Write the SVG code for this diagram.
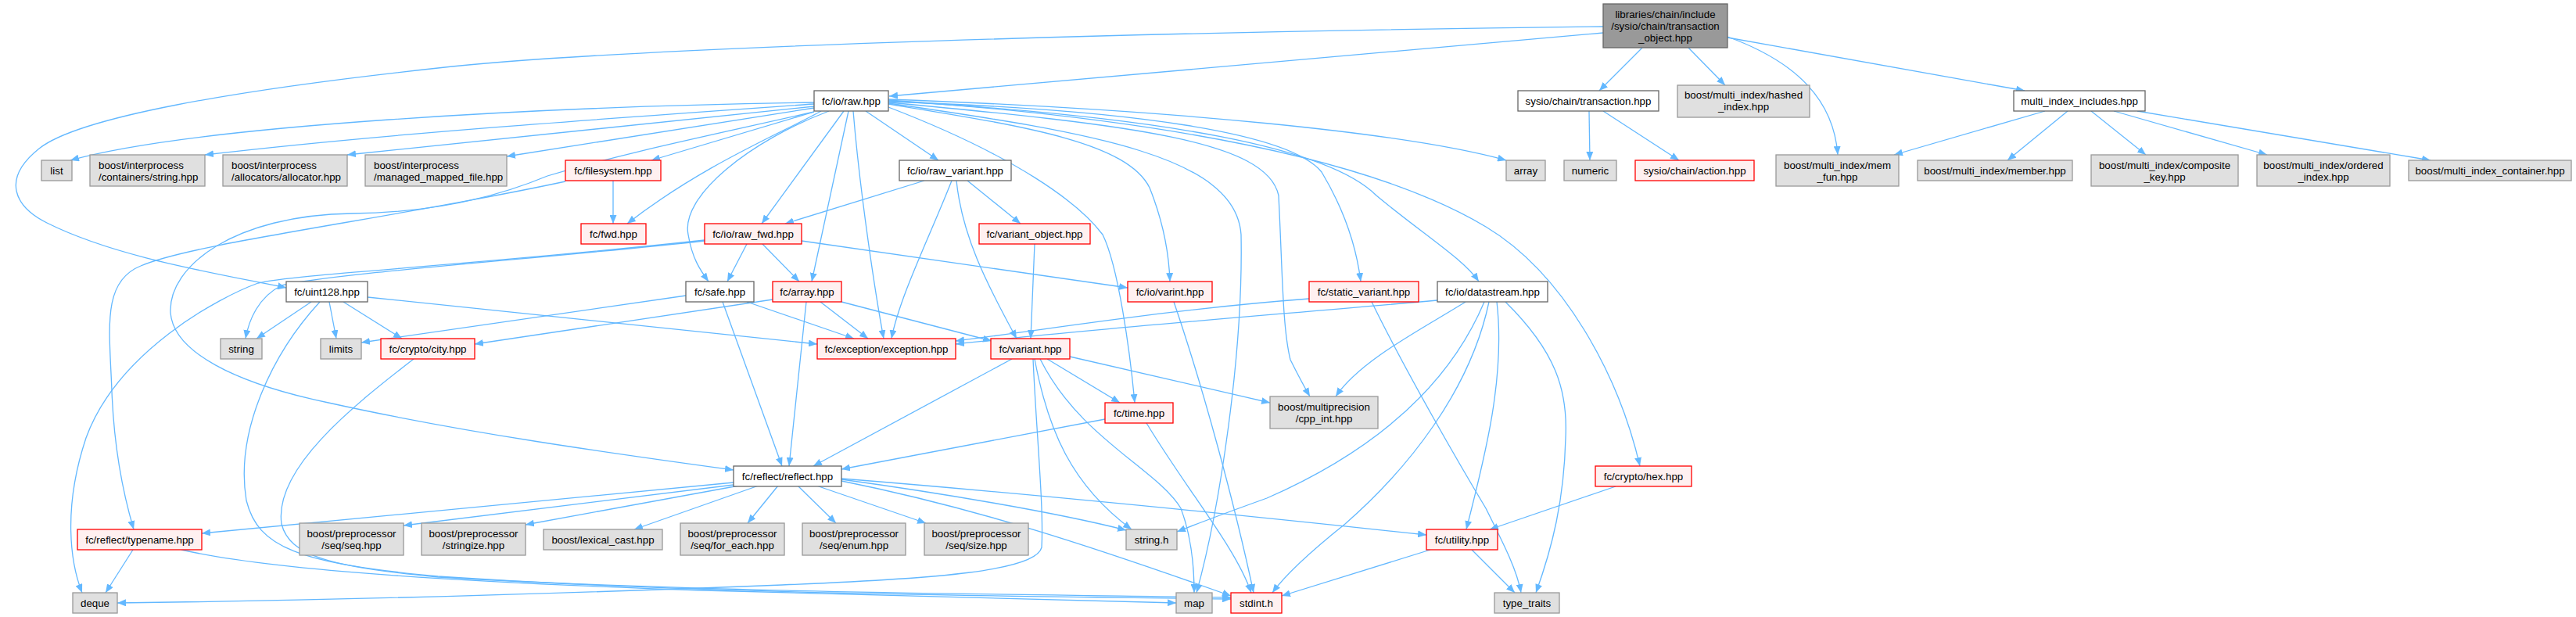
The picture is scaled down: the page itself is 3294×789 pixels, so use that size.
<svg xmlns="http://www.w3.org/2000/svg" width="3294" height="789" viewBox="0 0 3294 789">
<defs>
<marker id="ah" viewBox="0 0 11 9" refX="11" refY="4.5" markerWidth="11" markerHeight="9" orient="auto" markerUnits="userSpaceOnUse"><path d="M0,0 L11,4.5 L0,9 z" fill="#63b8ff"/></marker>
<style>
.e{fill:none;stroke:#63b8ff;stroke-width:1.3;marker-end:url(#ah)}
.w{fill:#ffffff;stroke:#666666;stroke-width:1.3}
.g{fill:#e0e0e0;stroke:#999999;stroke-width:1.3}
.r{fill:#fff0f0;stroke:#ff0000;stroke-width:1.3}
.root{fill:#999999;stroke:#666666;stroke-width:1.3}
text{font-family:"Liberation Sans",Arial,sans-serif;font-size:13.33px;fill:#000000}
.c{text-anchor:middle}
</style>
</defs>
<rect width="3294" height="789" fill="#ffffff"/>
<g id="edges">
<path class="e" d="M2050,42 L1137,123"/>
<path class="e" d="M2050,34 C1500,40 800,60 560,87 C300,115 100,150 50,190 C0,230 20,265 60,285 C150,330 280,350 366,368"/>
<path class="e" d="M2100,61 L2045,116"/>
<path class="e" d="M2159,61 L2206,109"/>
<path class="e" d="M2209,47 C2300,80 2345,130 2350,198"/>
<path class="e" d="M2209,48 L2589,116"/>
<path class="e" d="M2032,142 L2033,205"/>
<path class="e" d="M2050,142 L2147,205"/>
<path class="e" d="M2615,142 L2422,198"/>
<path class="e" d="M2644,142 L2567,205"/>
<path class="e" d="M2674,142 L2744,198"/>
<path class="e" d="M2703,142 L2899,198"/>
<path class="e" d="M2733,142 L3108,205"/>
<path class="e" d="M1041,131 C700,136 250,160 90,205"/>
<path class="e" d="M1041,133 C800,150 500,170 262,198"/>
<path class="e" d="M1041,136 C800,160 600,180 444,198"/>
<path class="e" d="M1041,138 L648,200"/>
<path class="e" d="M1041,143 L833,205"/>
<path class="e" d="M1050,142 C1000,170 900,210 802,286"/>
<path class="e" d="M1079,142 L974,286"/>
<path class="e" d="M1060,142 C960,180 870,250 880,300 C885,330 895,345 906,360"/>
<path class="e" d="M1085,142 L1038,360"/>
<path class="e" d="M1107,142 L1200,205"/>
<path class="e" d="M1136,133 C1300,160 1440,180 1470,240 C1490,290 1495,330 1496,360"/>
<path class="e" d="M1091,142 C1100,250 1120,380 1130,433"/>
<path class="e" d="M1136,137 C1300,200 1380,260 1410,300 C1430,340 1445,450 1451,515"/>
<path class="e" d="M1136,132 C1400,170 1580,200 1587,300 C1590,450 1560,650 1530,758"/>
<path class="e" d="M1136,131 C1450,160 1620,180 1635,250 C1640,350 1640,420 1650,460 C1660,480 1668,495 1675,507"/>
<path class="e" d="M1136,130 C1450,140 1650,170 1690,220 C1720,270 1735,320 1740,360"/>
<path class="e" d="M1136,129 C1500,150 1700,190 1760,250 C1820,300 1870,330 1891,360"/>
<path class="e" d="M1136,128 C1600,160 1800,230 1900,290 C2000,350 2070,480 2097,596"/>
<path class="e" d="M1136,127 C1500,140 1800,170 1926,205"/>
<path class="e" d="M1041,143 C900,175 800,195 700,225 C640,250 560,272 450,273 C300,275 215,340 218,400 C222,450 300,490 420,515 C600,555 800,582 938,601"/>
<path class="e" d="M723,232 C500,280 250,310 180,340 C130,360 140,420 143,500 C146,580 160,640 171,677"/>
<path class="e" d="M955,312 L930,360"/>
<path class="e" d="M975,312 L1022,360"/>
<path class="e" d="M1025,308 L1442,368"/>
<path class="e" d="M901,307 C600,340 380,350 330,362 C280,380 150,450 110,560 C80,650 90,720 105,758"/>
<path class="e" d="M901,308 C700,330 420,350 360,365 C330,380 318,410 314,433"/>
<path class="e" d="M1182,231 L1004,286"/>
<path class="e" d="M1237,231 L1305,286"/>
<path class="e" d="M1217,231 C1190,300 1150,380 1140,433"/>
<path class="e" d="M1223,231 C1230,300 1260,360 1300,433"/>
<path class="e" d="M1323,312 L1318,433"/>
<path class="e" d="M784,231 L784,286"/>
<path class="e" d="M398,386 L328,433"/>
<path class="e" d="M421,386 L430,433"/>
<path class="e" d="M439,386 L514,433"/>
<path class="e" d="M470,380 L1045,440"/>
<path class="e" d="M409,386 C350,450 300,550 315,640 C330,700 380,720 560,737 C900,760 1300,762 1574,766"/>
<path class="e" d="M529,459 C450,520 350,600 360,670 C370,710 420,725 560,738 C900,758 1300,760 1574,764"/>
<path class="e" d="M170,703 L135,758"/>
<path class="e" d="M232,703 C350,730 600,745 900,755 C1200,763 1400,768 1504,771"/>
<path class="e" d="M1294,459 L1040,596"/>
<path class="e" d="M1339,459 L1432,515"/>
<path class="e" d="M1368,456 L1624,515"/>
<path class="e" d="M1323,459 C1340,550 1370,620 1447,677"/>
<path class="e" d="M1330,459 C1380,560 1480,600 1510,650 C1525,690 1527,730 1527,758"/>
<path class="e" d="M1321,459 C1325,550 1335,650 1332,700 C1325,730 1200,740 1000,748 C700,760 400,768 150,771"/>
<path class="e" d="M1413,536 L1076,600"/>
<path class="e" d="M1466,541 C1520,630 1580,700 1600,758"/>
<path class="e" d="M938,617 L258,682"/>
<path class="e" d="M938,620 L516,672"/>
<path class="e" d="M945,621 L672,671"/>
<path class="e" d="M970,621 L811,677"/>
<path class="e" d="M995,621 L956,669"/>
<path class="e" d="M1020,621 L1069,669"/>
<path class="e" d="M1044,621 L1184,669"/>
<path class="e" d="M1076,613 C1200,630 1350,655 1440,678"/>
<path class="e" d="M1076,615 C1250,650 1400,700 1574,762"/>
<path class="e" d="M1076,612 C1300,630 1600,660 1824,684"/>
<path class="e" d="M1838,384 C1600,405 1400,420 1222,440"/>
<path class="e" d="M1874,386 C1820,420 1740,460 1708,507"/>
<path class="e" d="M1898,386 C1850,500 1750,580 1620,637 C1570,655 1530,670 1505,680"/>
<path class="e" d="M1904,386 C1880,500 1800,600 1720,670 C1670,710 1640,740 1627,758"/>
<path class="e" d="M1914,386 C1925,480 1900,580 1875,677"/>
<path class="e" d="M1925,386 C1990,450 2005,500 2002,560 C2000,640 1985,700 1964,758"/>
<path class="e" d="M1674,382 C1500,395 1350,420 1222,436"/>
<path class="e" d="M1754,386 C1800,480 1870,600 1900,650 C1925,700 1940,730 1945,758"/>
<path class="e" d="M2066,622 L1905,677"/>
<path class="e" d="M1829,703 L1639,762"/>
<path class="e" d="M1882,703 L1937,758"/>
<path class="e" d="M877,378 L462,438"/>
<path class="e" d="M924,386 L1000,596"/>
<path class="e" d="M955,386 L1092,433"/>
<path class="e" d="M988,383 L607,440"/>
<path class="e" d="M1031,386 L1009,596"/>
<path class="e" d="M1049,386 L1110,433"/>
<path class="e" d="M1076,386 L1268,436"/>
<path class="e" d="M1501,386 C1540,500 1580,650 1603,758"/>
</g>
<g id="n_root"><rect class="root" x="2050" y="5" width="159" height="56"/><text class="c" x="2129.5" y="22.5">libraries/chain/include</text><text class="c" x="2129.5" y="37.5">/sysio/chain/transaction</text><text class="c" x="2129.5" y="52.5">_object.hpp</text></g>
<g id="n_raw"><rect class="w" x="1041" y="116" width="95" height="26"/><text class="c" x="1088.5" y="133.5">fc/io/raw.hpp</text></g>
<g id="n_trans"><rect class="w" x="1941" y="116" width="180" height="26"/><text class="c" x="2031" y="133.5">sysio/chain/transaction.hpp</text></g>
<g id="n_hashed"><rect class="g" x="2145" y="109" width="169" height="41"/><text class="c" x="2229.5" y="126">boost/multi_index/hashed</text><text class="c" x="2229.5" y="141">_index.hpp</text></g>
<g id="n_mii"><rect class="w" x="2575" y="116" width="168" height="26"/><text class="c" x="2659" y="133.5">multi_index_includes.hpp</text></g>
<g id="n_list"><rect class="g" x="53" y="205" width="39" height="26"/><text class="c" x="72.5" y="222.5">list</text></g>
<g id="n_cstring"><rect class="g" x="115" y="198" width="147" height="40"/><text x="126" y="215.5">boost/interprocess</text><text x="126" y="230.5">/containers/string.hpp</text></g>
<g id="n_alloc"><rect class="g" x="285" y="198" width="159" height="40"/><text x="296" y="215.5">boost/interprocess</text><text x="296" y="230.5">/allocators/allocator.hpp</text></g>
<g id="n_mmf"><rect class="g" x="467" y="198" width="181" height="40"/><text x="478" y="215.5">boost/interprocess</text><text x="478" y="230.5">/managed_mapped_file.hpp</text></g>
<g id="n_filesystem"><rect class="r" x="723" y="205" width="122" height="26"/><text class="c" x="784" y="222.5">fc/filesystem.hpp</text></g>
<g id="n_rawvariant"><rect class="w" x="1150" y="205" width="143" height="26"/><text class="c" x="1221.5" y="222.5">fc/io/raw_variant.hpp</text></g>
<g id="n_array"><rect class="g" x="1926" y="205" width="50" height="26"/><text class="c" x="1951" y="222.5">array</text></g>
<g id="n_numeric"><rect class="g" x="2000" y="205" width="67" height="26"/><text class="c" x="2033.5" y="222.5">numeric</text></g>
<g id="n_action"><rect class="r" x="2091" y="205" width="152" height="26"/><text class="c" x="2167" y="222.5">sysio/chain/action.hpp</text></g>
<g id="n_memfun"><rect class="g" x="2271" y="198" width="157" height="40"/><text class="c" x="2349.5" y="215.5">boost/multi_index/mem</text><text class="c" x="2349.5" y="230.5">_fun.hpp</text></g>
<g id="n_member"><rect class="g" x="2452" y="205" width="198" height="26"/><text class="c" x="2551" y="222.5">boost/multi_index/member.hpp</text></g>
<g id="n_composite"><rect class="g" x="2674" y="198" width="188" height="40"/><text class="c" x="2768" y="215.5">boost/multi_index/composite</text><text class="c" x="2768" y="230.5">_key.hpp</text></g>
<g id="n_ordered"><rect class="g" x="2886" y="198" width="170" height="40"/><text class="c" x="2971" y="215.5">boost/multi_index/ordered</text><text class="c" x="2971" y="230.5">_index.hpp</text></g>
<g id="n_container"><rect class="g" x="3080" y="205" width="208" height="26"/><text class="c" x="3184" y="222.5">boost/multi_index_container.hpp</text></g>
<g id="n_fwd"><rect class="r" x="743" y="286" width="83" height="26"/><text class="c" x="784.5" y="303.5">fc/fwd.hpp</text></g>
<g id="n_rawfwd"><rect class="r" x="901" y="286" width="124" height="26"/><text class="c" x="963" y="303.5">fc/io/raw_fwd.hpp</text></g>
<g id="n_varobj"><rect class="r" x="1252" y="286" width="142" height="26"/><text class="c" x="1323" y="303.5">fc/variant_object.hpp</text></g>
<g id="n_uint128"><rect class="w" x="366" y="360" width="104" height="26"/><text class="c" x="418" y="377.5">fc/uint128.hpp</text></g>
<g id="n_safe"><rect class="w" x="877" y="360" width="87" height="26"/><text class="c" x="920.5" y="377.5">fc/safe.hpp</text></g>
<g id="n_farray"><rect class="r" x="988" y="360" width="88" height="26"/><text class="c" x="1032" y="377.5">fc/array.hpp</text></g>
<g id="n_varint"><rect class="r" x="1442" y="360" width="108" height="26"/><text class="c" x="1496" y="377.5">fc/io/varint.hpp</text></g>
<g id="n_staticvariant"><rect class="r" x="1674" y="360" width="140" height="26"/><text class="c" x="1744" y="377.5">fc/static_variant.hpp</text></g>
<g id="n_datastream"><rect class="w" x="1838" y="360" width="141" height="26"/><text class="c" x="1908.5" y="377.5">fc/io/datastream.hpp</text></g>
<g id="n_string"><rect class="g" x="282" y="433" width="53" height="26"/><text class="c" x="308.5" y="450.5">string</text></g>
<g id="n_limits"><rect class="g" x="410" y="433" width="52" height="26"/><text class="c" x="436" y="450.5">limits</text></g>
<g id="n_city"><rect class="r" x="487" y="433" width="120" height="26"/><text class="c" x="547" y="450.5">fc/crypto/city.hpp</text></g>
<g id="n_exception"><rect class="r" x="1045" y="433" width="177" height="26"/><text class="c" x="1133.5" y="450.5">fc/exception/exception.hpp</text></g>
<g id="n_variant"><rect class="r" x="1267" y="433" width="101" height="26"/><text class="c" x="1317.5" y="450.5">fc/variant.hpp</text></g>
<g id="n_time"><rect class="r" x="1413" y="515" width="87" height="26"/><text class="c" x="1456.5" y="532.5">fc/time.hpp</text></g>
<g id="n_cppint"><rect class="g" x="1624" y="507" width="138" height="41"/><text class="c" x="1693" y="524.5">boost/multiprecision</text><text class="c" x="1693" y="539.5">/cpp_int.hpp</text></g>
<g id="n_hex"><rect class="r" x="2040" y="596" width="123" height="26"/><text class="c" x="2101.5" y="613.5">fc/crypto/hex.hpp</text></g>
<g id="n_reflect"><rect class="w" x="938" y="596" width="138" height="26"/><text class="c" x="1007" y="613.5">fc/reflect/reflect.hpp</text></g>
<g id="n_typename"><rect class="r" x="99" y="677" width="159" height="26"/><text class="c" x="178.5" y="694.5">fc/reflect/typename.hpp</text></g>
<g id="n_seq"><rect class="g" x="383" y="669" width="133" height="41"/><text class="c" x="449.5" y="686.5">boost/preprocessor</text><text class="c" x="449.5" y="701.5">/seq/seq.hpp</text></g>
<g id="n_stringize"><rect class="g" x="539" y="669" width="133" height="41"/><text class="c" x="605.5" y="686.5">boost/preprocessor</text><text class="c" x="605.5" y="701.5">/stringize.hpp</text></g>
<g id="n_lexical"><rect class="g" x="695" y="677" width="152" height="26"/><text class="c" x="771" y="694.5">boost/lexical_cast.hpp</text></g>
<g id="n_foreach"><rect class="g" x="870" y="669" width="133" height="41"/><text class="c" x="936.5" y="686.5">boost/preprocessor</text><text class="c" x="936.5" y="701.5">/seq/for_each.hpp</text></g>
<g id="n_enum"><rect class="g" x="1026" y="669" width="132" height="41"/><text class="c" x="1092" y="686.5">boost/preprocessor</text><text class="c" x="1092" y="701.5">/seq/enum.hpp</text></g>
<g id="n_size"><rect class="g" x="1182" y="669" width="133" height="41"/><text class="c" x="1248.5" y="686.5">boost/preprocessor</text><text class="c" x="1248.5" y="701.5">/seq/size.hpp</text></g>
<g id="n_stringh"><rect class="g" x="1440" y="677" width="65" height="26"/><text class="c" x="1472.5" y="694.5">string.h</text></g>
<g id="n_utility"><rect class="r" x="1824" y="677" width="91" height="26"/><text class="c" x="1869.5" y="694.5">fc/utility.hpp</text></g>
<g id="n_deque"><rect class="g" x="93" y="758" width="57" height="26"/><text class="c" x="121.5" y="775.5">deque</text></g>
<g id="n_map"><rect class="g" x="1504" y="758" width="46" height="26"/><text class="c" x="1527" y="775.5">map</text></g>
<g id="n_stdint"><rect class="r" x="1574" y="758" width="65" height="26"/><text class="c" x="1606.5" y="775.5">stdint.h</text></g>
<g id="n_typetraits"><rect class="g" x="1911" y="758" width="83" height="26"/><text class="c" x="1952.5" y="775.5">type_traits</text></g>
</svg>
